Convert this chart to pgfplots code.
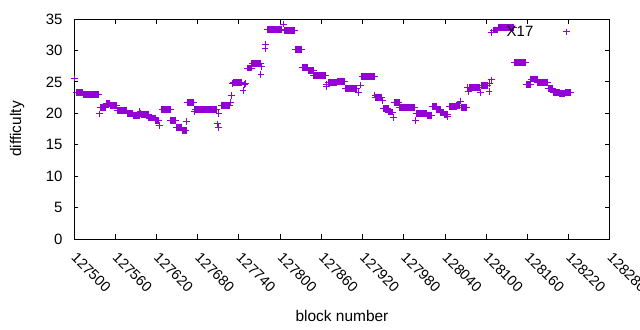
\documentclass[border=0pt]{standalone}
\usepackage{fontspec}
\setmainfont{Liberation Sans}
\usepackage{pgfplots}
\pgfplotsset{compat=1.18}
\definecolor{gpviolet}{RGB}{148,0,211}
\begin{document}
\begin{tikzpicture}
\path[use as bounding box] (0,0) rectangle (640bp,330bp);
\begin{axis}[
  at={(74bp,91bp)}, anchor=south west,
  scale only axis, width=536bp, height=220bp,
  xmin=127500, xmax=128280, ymin=0, ymax=35,
  xtick={127500,127560,127620,127680,127740,127800,127860,127920,127980,128040,128100,128160,128220,128280},
  xticklabels={127500,127560,127620,127680,127740,127800,127860,127920,127980,128040,128100,128160,128220,128280},
  ytick={0,5,10,15,20,25,30,35},
  scaled x ticks=false,
  clip=false,
  tick align=inside, major tick length=4.5bp,
  axis line style={line width=1bp},
  tick style={line width=1bp, black},
  /pgf/number format/assume math mode=true,
  tick label style={font=\fontsize{15}{18}\selectfont},
  xticklabel style={rotate=-45, anchor=west, inner sep=0pt, font=\fontsize{14.5}{17}\selectfont},
  xticklabel shift=16bp,
  yticklabel shift=8bp,
  xlabel={block number}, ylabel={difficulty},
  every axis x label/.style={at={(axis description cs:0.5,-0.35)}, anchor=center, font=\fontsize{15.5}{18}\selectfont},
  every axis y label/.style={at={(axis description cs:-0.1063,0.5)}, rotate=90, anchor=center, font=\fontsize{15.5}{18}\selectfont},
  legend plot pos=right,
  legend style={at={(0.942,0.941)}, anchor=east, draw=none, fill=none, inner sep=0pt,
    font=\fontsize{15}{18}\selectfont, column sep=19bp},
  legend image code/.code={\draw[#1, only marks] plot coordinates {(12bp,0bp)}; \path (0bp,0bp) (24bp,0bp);},
]
\addplot[only marks, mark=+, mark size=3.4bp, color=gpviolet, mark options={line width=1bp}] table {
x y
127501 25.6
127503 23.3
127504 23.3
127505 23.3
127506 23.3
127507 23.3
127508 23.3
127509 23.3
127510 23.3
127511 23.3
127512 23.3
127513 23.3
127514 23.0
127515 23.0
127516 23.0
127517 23.0
127518 23.0
127519 23.0
127520 23.0
127521 23.0
127522 23.0
127523 23.0
127524 23.0
127525 23.0
127526 23.0
127527 23.0
127528 23.0
127529 23.0
127530 23.0
127531 23.0
127532 23.0
127533 23.0
127534 23.0
127535 23.0
127536 23.0
127537 19.9
127538 20.95
127539 20.95
127540 20.95
127541 20.95
127542 20.95
127543 20.95
127544 20.95
127545 20.95
127546 20.95
127547 21.5
127548 21.5
127549 21.5
127550 21.5
127551 21.5
127552 21.5
127553 21.2
127554 21.2
127555 21.2
127556 21.2
127557 21.2
127558 21.2
127559 21.2
127560 21.2
127561 21.2
127562 21.2
127563 20.5
127564 20.5
127565 20.5
127566 20.5
127567 20.5
127568 20.5
127569 20.5
127570 20.5
127571 20.5
127572 20.5
127573 20.5
127574 20.5
127575 20.5
127576 20.5
127577 20.5
127578 20.0
127579 20.0
127580 20.0
127581 20.0
127582 20.0
127583 20.0
127584 20.0
127585 20.0
127586 19.7
127587 19.7
127588 19.7
127589 19.7
127590 19.7
127591 19.7
127592 19.7
127593 19.7
127594 19.7
127595 19.7
127596 20.3
127597 20.0
127598 19.85
127599 19.85
127600 19.85
127601 19.85
127602 19.85
127603 19.85
127604 19.85
127605 19.85
127606 19.85
127607 19.85
127608 19.85
127609 19.25
127610 19.25
127611 19.25
127612 19.25
127613 19.25
127614 19.25
127615 19.25
127616 19.25
127617 19.25
127618 19.25
127619 18.8
127620 18.8
127621 18.8
127622 18.8
127623 18.8
127625 18.1
127628 20.6
127629 20.6
127630 20.6
127631 20.6
127632 20.6
127633 20.6
127634 20.6
127635 20.6
127636 20.6
127637 20.6
127638 20.6
127639 20.6
127640 20.6
127641 18.9
127642 18.9
127643 18.9
127644 18.9
127645 18.9
127646 18.9
127647 18.9
127648 18.9
127649 17.8
127650 17.8
127651 17.8
127652 17.8
127653 17.8
127654 17.8
127655 17.8
127656 17.8
127657 17.8
127658 17.3
127659 17.3
127660 17.3
127661 17.3
127662 17.3
127663 17.3
127664 18.7
127665 21.7
127666 21.7
127667 21.7
127668 21.7
127669 21.7
127670 21.7
127671 21.7
127672 21.7
127673 21.7
127674 21.7
127675 20.3
127676 20.6
127677 20.6
127678 20.6
127679 20.6
127680 20.6
127681 20.6
127682 20.6
127683 20.6
127684 20.6
127685 20.6
127686 20.6
127687 20.6
127688 20.6
127689 20.6
127690 20.6
127691 20.6
127692 20.6
127693 20.6
127694 20.6
127695 20.6
127696 20.6
127697 20.6
127698 20.6
127699 20.6
127700 20.6
127701 20.6
127702 20.6
127703 20.6
127704 20.6
127705 20.6
127706 20.6
127707 20.6
127708 20.6
127709 18.3
127710 17.7
127711 20.0
127715 21.3
127716 21.3
127717 21.3
127718 21.3
127719 21.3
127720 21.3
127721 21.3
127722 21.3
127723 21.3
127724 21.3
127725 21.3
127726 21.3
127727 21.3
127728 21.7
127729 22.8
127730 24.7
127732 24.9
127733 24.9
127734 24.9
127735 24.9
127736 24.9
127737 24.9
127738 24.9
127739 24.9
127740 24.9
127741 24.9
127742 24.9
127743 24.9
127744 24.9
127746 23.6
127748 24.6
127750 24.8
127752 27.2
127753 27.2
127754 27.2
127755 27.2
127756 27.2
127757 27.2
127758 27.2
127759 27.95
127760 27.95
127761 27.95
127762 27.95
127763 27.95
127764 27.95
127765 27.95
127766 27.95
127767 27.95
127768 27.95
127769 27.95
127770 27.95
127771 27.95
127772 26.2
127773 27.4
127778 30.3
127779 30.9
127781 33.35
127782 33.35
127783 33.35
127784 33.35
127785 33.35
127786 33.35
127787 33.35
127788 33.35
127789 33.35
127790 33.35
127791 33.35
127792 33.35
127793 33.35
127794 33.35
127795 33.35
127796 33.35
127797 33.35
127798 33.35
127799 33.35
127800 33.35
127801 33.35
127802 33.35
127805 34.2
127807 33.2
127808 33.2
127809 33.2
127810 33.2
127811 33.2
127812 33.2
127813 33.2
127814 33.2
127815 33.2
127816 33.2
127817 33.2
127818 33.2
127819 33.2
127820 33.2
127821 33.2
127822 30.2
127823 30.2
127824 30.2
127825 30.2
127826 30.2
127827 30.2
127828 30.2
127829 30.2
127830 30.2
127831 30.2
127832 27.3
127833 27.3
127834 27.3
127835 27.3
127836 27.3
127837 27.3
127838 27.3
127839 27.3
127840 27.3
127841 26.75
127842 26.75
127843 26.75
127844 26.75
127845 26.75
127846 26.75
127847 26.75
127848 26.75
127849 26.0
127850 26.0
127851 26.0
127852 26.0
127853 26.0
127854 26.0
127855 26.0
127856 26.0
127857 26.0
127858 26.0
127859 26.0
127860 26.0
127861 26.0
127862 26.0
127863 26.0
127864 26.0
127865 26.0
127866 26.0
127867 24.3
127868 24.6
127870 24.9
127871 24.9
127872 24.9
127873 24.9
127874 24.9
127875 24.9
127876 24.9
127877 24.9
127878 24.9
127879 24.9
127880 24.9
127881 24.9
127882 24.9
127883 25.0
127884 25.0
127885 25.0
127886 25.0
127887 25.0
127888 25.0
127889 25.0
127890 25.0
127891 25.0
127892 25.0
127893 25.0
127894 25.0
127895 24.0
127896 24.0
127897 24.0
127898 24.0
127899 24.0
127900 24.0
127901 24.0
127902 24.0
127903 24.0
127904 24.0
127905 24.0
127906 24.0
127907 24.0
127908 24.0
127909 24.0
127910 24.0
127911 24.0
127914 23.35
127917 24.5
127919 25.9
127920 25.9
127921 25.9
127922 25.9
127923 25.9
127924 25.9
127925 25.9
127926 25.9
127927 25.9
127928 25.9
127929 25.9
127930 25.9
127931 25.9
127932 25.9
127933 25.9
127934 25.9
127935 25.9
127936 25.9
127937 25.9
127938 25.9
127938 22.9
127939 22.5
127940 22.5
127941 22.5
127942 22.5
127943 22.5
127944 22.5
127945 22.5
127946 22.5
127947 22.5
127948 22.5
127949 22.0
127950 20.75
127951 20.75
127952 20.75
127953 20.75
127954 20.75
127955 20.75
127956 20.75
127957 20.75
127958 20.2
127959 20.2
127960 20.2
127961 20.2
127962 20.2
127963 20.2
127964 20.2
127965 19.35
127966 21.75
127967 21.75
127968 21.75
127969 21.75
127970 21.75
127971 21.75
127972 21.75
127973 21.75
127974 20.95
127975 20.95
127976 20.95
127977 20.95
127978 20.95
127979 20.95
127980 20.95
127981 20.95
127982 20.95
127983 20.95
127984 20.95
127985 20.95
127986 20.95
127987 20.95
127988 20.95
127989 20.95
127990 20.95
127991 20.95
127992 20.95
127993 20.95
127994 20.95
127995 20.95
127996 20.95
127997 18.85
127999 20.0
128000 20.0
128001 20.0
128002 20.0
128003 20.0
128004 20.0
128005 20.0
128006 20.0
128007 20.0
128008 20.0
128009 20.0
128010 20.0
128011 20.0
128012 20.0
128013 20.0
128014 19.7
128015 19.7
128016 19.7
128017 19.7
128018 19.7
128019 19.7
128020 19.7
128021 21.05
128022 21.05
128023 21.05
128024 21.05
128025 21.05
128026 21.05
128027 21.05
128028 20.65
128029 20.65
128030 20.65
128031 20.65
128032 20.65
128033 20.65
128034 20.1
128035 20.1
128036 20.1
128037 20.1
128038 20.1
128039 19.75
128040 19.75
128041 19.75
128042 19.75
128043 19.75
128044 19.5
128046 21.05
128047 21.05
128048 21.05
128049 21.05
128050 21.05
128051 21.05
128052 21.05
128053 21.05
128054 21.05
128055 21.05
128056 21.05
128057 21.3
128058 21.3
128059 21.3
128060 21.3
128061 21.3
128062 21.95
128064 20.9
128065 20.9
128066 20.9
128067 20.9
128068 20.9
128069 20.9
128070 20.9
128071 20.9
128072 24.1
128073 24.1
128074 23.5
128075 24.1
128076 24.1
128077 24.1
128078 24.1
128079 24.1
128080 24.1
128081 24.1
128082 24.1
128083 24.1
128084 24.1
128085 24.1
128086 24.1
128087 24.1
128088 24.1
128089 24.1
128090 24.1
128091 23.3
128093 24.4
128094 24.4
128095 24.4
128096 24.4
128097 24.4
128098 24.4
128099 24.4
128100 24.4
128101 24.4
128102 24.4
128104 23.5
128105 24.8
128107 32.8
128108 25.3
128111 33.25
128112 33.25
128113 33.25
128114 33.25
128115 33.25
128116 33.25
128117 33.25
128118 33.65
128119 33.65
128120 33.65
128121 33.65
128122 33.65
128123 33.65
128124 33.65
128125 33.65
128126 33.65
128127 33.65
128128 33.65
128129 33.65
128130 33.65
128131 33.65
128132 33.65
128133 33.65
128134 33.65
128135 33.65
128136 33.65
128137 33.65
128138 33.65
128139 33.65
128140 33.65
128141 28.1
128142 28.1
128143 28.1
128144 28.1
128145 28.1
128146 28.1
128147 28.1
128148 28.1
128149 28.1
128150 28.1
128151 28.1
128152 28.1
128153 28.1
128154 28.1
128155 28.1
128156 28.1
128157 28.1
128158 24.6
128159 24.6
128160 24.6
128161 24.6
128162 24.6
128163 24.6
128164 24.6
128165 25.45
128166 25.45
128167 25.45
128168 25.45
128169 25.45
128170 25.45
128171 25.45
128172 25.45
128173 25.45
128174 25.45
128175 24.9
128176 24.9
128177 24.9
128178 24.9
128179 24.9
128180 24.9
128181 24.9
128182 24.9
128183 24.9
128184 24.9
128185 24.9
128186 24.9
128187 24.9
128188 24.9
128189 24.9
128190 23.9
128191 23.9
128192 23.9
128193 23.9
128194 23.9
128195 23.9
128196 23.9
128197 23.9
128198 23.3
128199 23.3
128200 23.3
128201 23.3
128202 23.3
128203 23.3
128204 23.3
128205 23.3
128206 23.3
128207 23.1
128208 23.1
128209 23.1
128210 23.1
128211 23.1
128212 23.1
128213 23.1
128214 23.1
128215 23.3
128216 23.3
128217 23.3
128218 23.3
128219 23.3
128220 23.3
128221 23.3
128222 23.3
128223 23.3
};
\addlegendentry{X17}
\end{axis}
\end{tikzpicture}
\end{document}
